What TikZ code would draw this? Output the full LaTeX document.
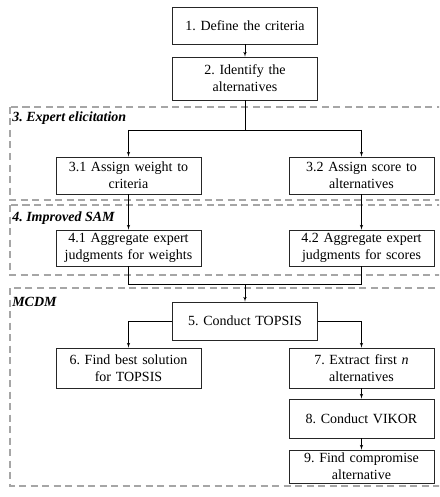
\documentclass[tikz,border=0pt]{standalone}
\usepackage{fontspec}
\setmainfont{Liberation Serif}
\frenchspacing
\usetikzlibrary{shapes,arrows,positioning,calc}
\tikzset{
	block/.style = {draw=black!85, line width=0.9pt, fill=white, rectangle, text width=141pt, inner xsep=2pt, inner ysep=0pt, align=center, font=\fontsize{14}{17}\selectfont},
	tmp/.style  = {coordinate},
	section/.style = {draw=black!35, line width=1.7pt, dash pattern=on 7pt off 4.5pt},
	seclabel/.style = {anchor=west, inner sep=0pt, font=\fontsize{14}{17}\selectfont\bfseries\itshape}
}

\begin{document}
\begin{tikzpicture}[x=1pt, y=-1pt, >=latex', line width=0.6pt]
	\useasboundingbox (0,0) rectangle (439,497);
	\clip (0,0) rectangle (439,497);
	% ========================== Sections ============================
	\draw[section] (10,107) rectangle (450,200);
	\draw[section] (10,205) rectangle (450,275);
	\draw[section] (10,288) rectangle (450,486);
	\node [seclabel] (lblexpert) at (12,118) {3. Expert elicitation};
	\node [seclabel] (lblsam) at (12,218) {4. Improved SAM};
	\node [seclabel] (lblmcdm) at (12,302) {MCDM};

	% ========================== Nodes ============================
	% Nodes in upper vertical line
	\node [block, minimum height=37pt] (define) at (245,25.5) {1. Define the criteria};
	\node [block, below of=define, node distance=53pt, minimum height=43pt] (identify) {2. Identify the\\ alternatives};
	\node [tmp, below of=identify, node distance=51.5pt] (tmpsplit) {};
	\node [tmp, left of=tmpsplit, node distance=116.5pt] (tmpW) {};
	\node [tmp, right of=tmpsplit, node distance=116.5pt] (tmpS) {};

	% Expert elicitation and SAM
	\node [block, below of=tmpW, node distance=45.5pt, minimum height=37pt] (assignW) {3.1 Assign weight to\\ criteria};
	\node [block, below of=tmpS, node distance=45.5pt, minimum height=37pt] (assignS) {3.2 Assign score to\\ alternatives};
	\node [block, below of=assignW, node distance=72.5pt, minimum height=36pt] (aggW) {4.1 Aggregate expert\\ judgments for weights};
	\node [block, below of=assignS, node distance=72.5pt, minimum height=36pt] (aggS) {4.2 Aggregate expert\\ judgments for scores};
	\node [tmp, below of=tmpsplit, node distance=154pt] (tmpmerge) {};
	\node [tmp, left of=tmpmerge, node distance=116.5pt] (tmpmW) {};
	\node [tmp, right of=tmpmerge, node distance=116.5pt] (tmpmS) {};

	% MCDM
	\node [block, below of=tmpmerge, node distance=37pt, minimum height=38pt] (topsis) {5. Conduct TOPSIS};
	\node [block, below of=aggW, node distance=120pt, minimum height=40pt] (best) {6. Find best solution\\ for TOPSIS};
	\node [block, below of=aggS, node distance=120pt, minimum height=40pt] (extract) {7. Extract first \textit{n}\\ alternatives};
	\node [block, below of=extract, node distance=50.5pt, minimum height=39pt] (vikor) {8. Conduct VIKOR};
	\node [block, below of=vikor, node distance=48pt, minimum height=33pt] (compromise) {9. Find compromise\\ alternative};

	% ========================== Lines ============================
	\draw [->] (define) -- (identify);
	\draw [-] (identify) -- (tmpsplit);
	\draw [-] (tmpW) -- (tmpS);
	\draw [->] (tmpW) -- (assignW);
	\draw [->] (tmpS) -- (assignS);
	\draw [->] (assignW) -- (aggW);
	\draw [->] (assignS) -- (aggS);

	% Aggregated judgments into TOPSIS
	\draw [-] (aggW) -- (tmpmW) -- (tmpmS) -- (aggS);
	\draw [->] (tmpmerge) -- (topsis);

	% TOPSIS and VIKOR
	\draw [->] (topsis.west) -| (best);
	\draw [->] (topsis.east) -| (extract);
	\draw [->] (extract) -- (vikor);
	\draw [->] (vikor) -- (compromise);
\end{tikzpicture}
\end{document}
